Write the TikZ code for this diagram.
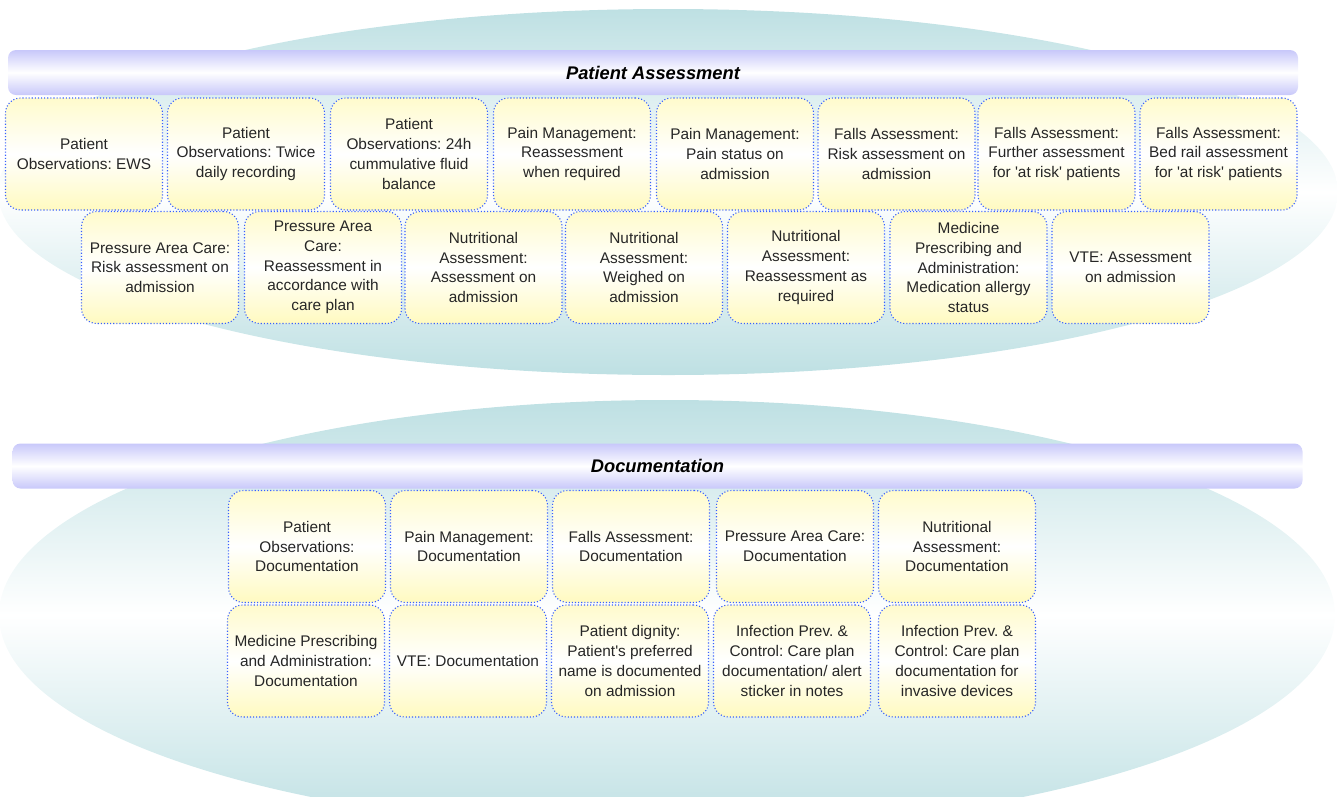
\documentclass[tikz,border=0pt]{standalone}
\usepackage{fontspec}
\setmainfont{Liberation Sans}
\usepackage{xcolor}
\usepackage{tikz}
\frenchspacing
\definecolor{ovalteal}{RGB}{190,224,227}
\definecolor{barlilac}{RGB}{200,200,250}
\definecolor{boxyellow}{RGB}{255,250,192}
\definecolor{boxline}{RGB}{55,95,255}
\newcommand{\sq}{\textquotesingle}
\tikzset{
  itembox/.style={draw=boxline,dotted,line width=1.1pt,rounded corners=15pt,
    top color=boxyellow!80,bottom color=boxyellow,middle color=white,
    minimum width=157pt,minimum height=112pt,inner sep=2pt,align=center,
    text=black!85,font=\fontsize{15.4}{19.7}\selectfont},
  bar/.style={rounded corners=8pt,top color=barlilac,bottom color=barlilac,middle color=white,
    minimum width=1290pt,minimum height=45pt,font=\fontsize{18.3}{20}\selectfont\bfseries\itshape},
  oval/.style={top color=ovalteal,bottom color=ovalteal,middle color=white}
}

\begin{document}
\begin{tikzpicture}[x=1pt,y=-1pt]
	\clip (0,0) rectangle (1337,796);
	% background ovals
	\shade[oval] (668,192) ellipse [x radius=670, y radius=183];
	\shade[oval] (667,615) ellipse [x radius=668, y radius=215];
	% headings
	\node[bar] (pahead) at (653,72.5) {Patient Assessment};
	\node[bar] (dochead) at (657.5,466) {Documentation};
	% patient assessment
	\foreach \x/\txt [count=\i] in {84/{Patient\\Observations: EWS},
	    246/{Patient\\Observations: Twice\\daily recording},
	    409/{Patient\\Observations: 24h\\cummulative fluid\\balance},
	    572/{Pain Management:\\Reassessment\\when required},
	    735/{Pain Management:\\Pain status on\\admission},
	    896.5/{Falls Assessment:\\Risk assessment on\\admission},
	    1056.5/{Falls Assessment:\\Further assessment\\for \sq at risk\sq{} patients},
	    1218.5/{Falls Assessment:\\Bed rail assessment\\for \sq at risk\sq{} patients}}
	  \node[itembox] (pa\i) at (\x,154) {\txt};
	\foreach \x/\txt [count=\i] in {160/{Pressure Area Care:\\Risk assessment on\\admission},
	    323/{Pressure Area\\Care:\\Reassessment in\\accordance with\\care plan},
	    483.5/{Nutritional\\Assessment:\\Assessment on\\admission},
	    644/{Nutritional\\Assessment:\\Weighed on\\admission},
	    806/{Nutritional\\Assessment:\\Reassessment as\\required},
	    968.5/{Medicine\\Prescribing and\\Administration:\\Medication allergy\\status},
	    1130.5/{VTE: Assessment\\on admission}}
	  \node[itembox] (pb\i) at (\x,267.5) {\txt};
	% documentation
	\foreach \x/\txt [count=\i] in {307/{Patient\\Observations:\\Documentation},
	    469/{Pain Management:\\Documentation},
	    631/{Falls Assessment:\\Documentation},
	    795/{Pressure Area Care:\\Documentation},
	    957/{Nutritional\\Assessment:\\Documentation}}
	  \node[itembox] (da\i) at (\x,546.5) {\txt};
	\foreach \x/\txt [count=\i] in {306/{Medicine Prescribing\\and Administration:\\Documentation},
	    468/{VTE: Documentation},
	    630/{Patient dignity:\\Patient\sq s preferred\\name is documented\\on admission},
	    792/{Infection Prev. \&\\Control: Care plan\\documentation/ alert\\sticker in notes},
	    957/{Infection Prev. \&\\Control: Care plan\\documentation for\\invasive devices}}
	  \node[itembox] (db\i) at (\x,661) {\txt};
\end{tikzpicture}
\end{document}
